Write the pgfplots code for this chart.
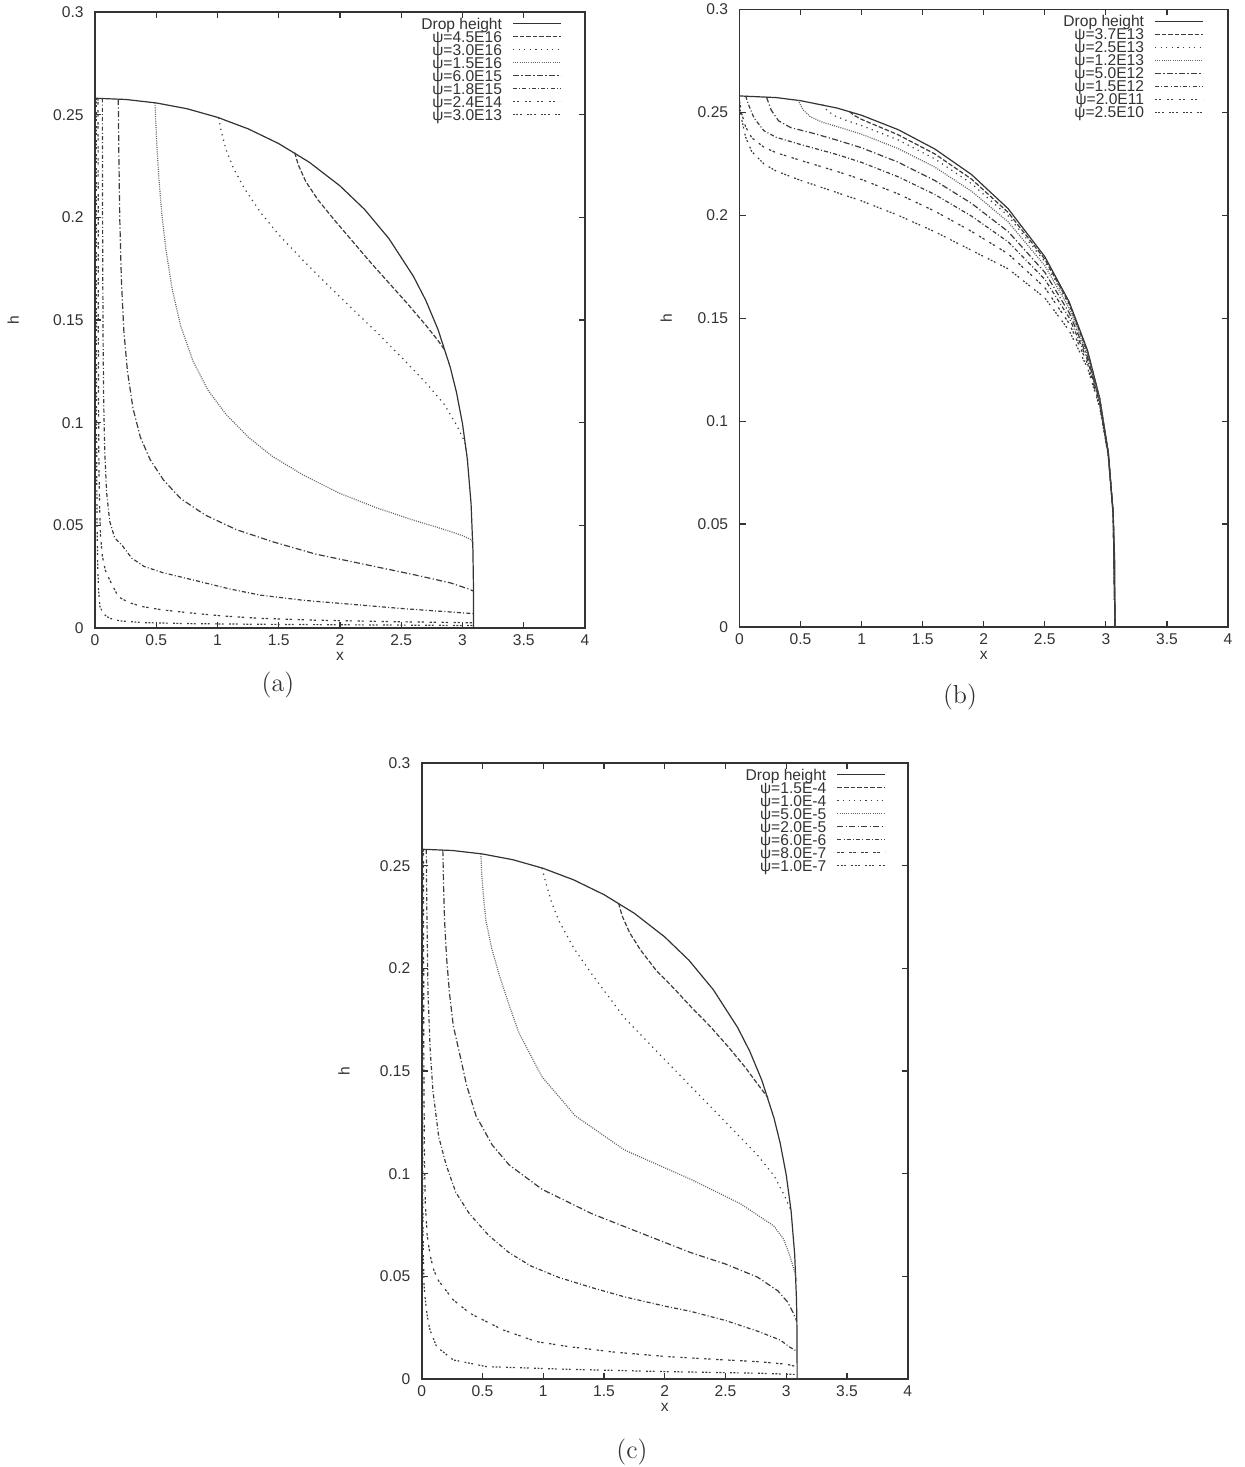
\documentclass[border=0pt]{standalone}
\usepackage{pgfplots}
\pgfplotsset{compat=1.18}
\usepackage{fontspec}
\newfontfamily\helv{Liberation Sans}
\definecolor{axcol}{HTML}{333333}
\definecolor{curcol}{HTML}{3C3C3C}
\definecolor{fincol}{HTML}{666666}
\newcommand{\tfont}{\helv\fontsize{7.8}{8}\selectfont}
\tikzset{
 sA/.style={curcol,dash pattern=on 2.3pt off 1pt},
 sB/.style={curcol,dash pattern=on 0.6pt off 2.2pt},
 sC/.style={fincol,dash pattern=on 0.5pt off 0.6pt},
 sD/.style={curcol,dash pattern=on 3pt off 1.2pt on 0.6pt off 1.2pt},
 sE/.style={curcol,dash pattern=on 2pt off 1.1pt on 0.5pt off 1.1pt},
 sF/.style={curcol,dash pattern=on 1.2pt off 0.8pt on 1.2pt off 2.8pt},
 sG/.style={curcol,dash pattern=on 0.9pt off 0.8pt on 0.9pt off 0.8pt on 0.9pt off 2.7pt},
 sS/.style={axcol,solid},
}
\pgfplotsset{
 panel/.style={
  scale only axis,
  xmin=0,xmax=4,ymin=0,ymax=0.3,
  xtick={0,0.5,1,1.5,2,2.5,3,3.5,4},
  xticklabels={0,0.5,1,1.5,2,2.5,3,3.5,4},
  ytick={0,0.05,0.1,0.15,0.2,0.25,0.3},
  yticklabels={0,0.05,0.1,0.15,0.2,0.25,0.3},
  tick align=inside, major tick length=3pt,
  every tick/.style={draw=axcol,line width=0.6pt},
  axis line style={draw=axcol,line width=0.8pt},
  ticklabel style={font=\tfont,text=axcol,inner sep=1pt},
  xticklabel style={yshift=-2.3pt},
  yticklabel style={xshift=-4.5pt},
  xlabel={x}, ylabel={h},
  every axis x label/.style={at={(axis description cs:0.5,0)},yshift=-14.2pt,anchor=center,font=\tfont,text=axcol,inner sep=0pt},
  every axis plot/.append style={line width=0.6pt},
  legend cell align=right,
  legend plot pos=right,
  legend image code/.code={\draw[##1] (0pt,0pt) -- (24pt,0pt);},
  legend style={draw=none,fill=none,anchor=north east,
    font=\tfont,text=axcol,
    inner sep=0pt,row sep=0pt,
    /tikz/every odd column/.append style={column sep=5pt},
    nodes={inner sep=0.2pt,text height=5.7pt,text depth=0.4pt}},
 }
}
\begin{document}
\begin{tikzpicture}
\path[use as bounding box] (0,0) rectangle (622pt,733.5pt);
% ---------------- (a)
\begin{axis}[panel,at={(47.5pt,419.5pt)},anchor=south west,width=245pt,height=308pt,
  every axis y label/.style={at={(axis description cs:-0.167,0.5)},rotate=90,anchor=center,font=\tfont,text=axcol},
  legend style={at={(axis description cs:0.953,0.992)}}]
\addplot[sS] coordinates {(0,0.258) (0.25,0.2574) (0.5,0.2557) (0.75,0.2529) (1.0,0.2487) (1.25,0.2431) (1.5,0.2359) (1.75,0.2268) (2.0,0.2153) (2.2,0.2039) (2.4,0.1896) (2.6,0.1712) (2.7,0.1596) (2.8,0.1454) (2.9,0.1270) (2.95,0.1150) (3.0,0.0995) (3.04,0.0820) (3.07,0.0605) (3.085,0.0382) (3.089,0.0223) (3.09,0)};
\addlegendentry{Drop height}
\addplot[sA] coordinates {(1.63,0.2315) (1.66,0.2255) (1.72,0.2175) (1.82,0.2085) (1.95,0.1990) (2.1,0.1885) (2.25,0.1780) (2.4,0.1680) (2.55,0.1580) (2.7,0.1475) (2.8,0.1400) (2.86,0.1350)};
\addlegendentry{ψ=4.5E16}
\addplot[sB] coordinates {(1.01,0.2485) (1.03,0.2420) (1.07,0.2330) (1.13,0.2240) (1.22,0.2140) (1.35,0.2025) (1.5,0.1915) (1.7,0.1790) (1.9,0.1670) (2.1,0.1555) (2.3,0.1440) (2.5,0.1320) (2.7,0.1195) (2.85,0.1090) (2.95,0.0990) (3.02,0.0905) (3.045,0.0800)};
\addlegendentry{ψ=3.0E16}
\addplot[sC] coordinates {(0.49,0.2557) (0.495,0.2480) (0.505,0.2350) (0.52,0.2200) (0.545,0.2020) (0.58,0.1840) (0.63,0.1650) (0.70,0.1470) (0.80,0.1300) (0.92,0.1160) (1.07,0.1040) (1.25,0.0930) (1.45,0.0835) (1.7,0.0745) (2.0,0.0655) (2.3,0.0585) (2.6,0.0525) (2.85,0.0480) (3.0,0.0450) (3.07,0.0430) (3.088,0.0415)};
\addlegendentry{ψ=1.5E16}
\addplot[sD] coordinates {(0.19,0.2576) (0.195,0.230) (0.202,0.200) (0.215,0.170) (0.235,0.145) (0.265,0.125) (0.31,0.107) (0.37,0.093) (0.45,0.082) (0.56,0.072) (0.7,0.063) (0.9,0.055) (1.15,0.048) (1.45,0.042) (1.8,0.036) (2.2,0.031) (2.6,0.026) (2.9,0.022) (3.05,0.019) (3.088,0.018)};
\addlegendentry{ψ=6.0E15}
\addplot[sE] coordinates {(0.06,0.2579) (0.061,0.22) (0.063,0.18) (0.066,0.14) (0.071,0.11) (0.08,0.085) (0.095,0.066) (0.12,0.052) (0.16,0.044) (0.224,0.040) (0.3,0.034) (0.4,0.030) (0.55,0.027) (0.8,0.0234) (1.1,0.019) (1.35,0.016) (1.7,0.0135) (2.1,0.0115) (2.5,0.0095) (2.9,0.0078) (3.088,0.007)};
\addlegendentry{ψ=1.8E15}
\addplot[sF] coordinates {(0.025,0.258) (0.026,0.2) (0.027,0.15) (0.029,0.11) (0.032,0.08) (0.037,0.06) (0.045,0.045) (0.06,0.035) (0.085,0.028) (0.12,0.0234) (0.19,0.0152) (0.28,0.0123) (0.39,0.0104) (0.55,0.0088) (0.8,0.0072) (1.05,0.0058) (1.35,0.0047) (1.8,0.0038) (2.4,0.0031) (2.9,0.0027) (3.088,0.0025)};
\addlegendentry{ψ=2.4E14}
\addplot[sG] coordinates {(0.01,0.258) (0.011,0.18) (0.012,0.12) (0.014,0.08) (0.017,0.05) (0.022,0.03) (0.03,0.018) (0.04,0.0104) (0.07,0.0068) (0.12,0.0047) (0.2,0.0035) (0.39,0.0026) (0.8,0.0021) (1.35,0.0018) (2.2,0.0015) (3.088,0.0012)};
\addlegendentry{ψ=3.0E13}
\end{axis}
% ---------------- (b)
\begin{axis}[panel,at={(369.75pt,420pt)},anchor=south west,width=244.25pt,height=308.75pt,
  every axis y label/.style={at={(axis description cs:-0.150,0.5)},rotate=90,anchor=center,font=\tfont,text=axcol},
  legend style={at={(axis description cs:0.951,0.992)}}]
\addplot[sS] coordinates {(0,0.258) (0.3,0.2572) (0.5,0.2557) (0.8,0.2521) (1.0,0.2486) (1.3,0.2416) (1.6,0.2322) (1.9,0.2198) (2.2,0.2032) (2.5,0.1799) (2.7,0.1579) (2.85,0.1343) (2.95,0.1110) (3.02,0.0847) (3.06,0.0551) (3.072,0.0322) (3.075,0)};
\addlegendentry{Drop height}
\addplot[sA] coordinates {(0.9,0.2504) (0.94,0.2485) (1.0,0.2466) (1.1,0.2441) (1.3,0.2391) (1.6,0.2298) (1.9,0.2176) (2.2,0.2014) (2.5,0.1787) (2.7,0.1571) (2.85,0.1338) (2.95,0.1108) (3.02,0.0846) (3.06,0.0551) (3.075,0)};
\addlegendentry{ψ=3.7E13}
\addplot[sB] coordinates {(0.68,0.2537) (0.72,0.2508) (0.78,0.2483) (0.88,0.2460) (1.0,0.2436) (1.3,0.2366) (1.6,0.2274) (1.9,0.2154) (2.2,0.1997) (2.5,0.1775) (2.7,0.1562) (2.85,0.1333) (2.95,0.1105) (3.02,0.0845) (3.06,0.0550) (3.075,0)};
\addlegendentry{ψ=2.5E13}
\addplot[sC] coordinates {(0.48,0.2559) (0.52,0.2513) (0.58,0.2479) (0.68,0.2452) (0.8,0.2431) (1.0,0.2394) (1.3,0.2324) (1.6,0.2234) (1.9,0.2117) (2.2,0.1968) (2.5,0.1755) (2.7,0.1548) (2.85,0.1324) (2.95,0.1100) (3.02,0.0843) (3.06,0.0550) (3.075,0)};
\addlegendentry{ψ=1.2E13}
\addplot[sD] coordinates {(0.22,0.2576) (0.26,0.2511) (0.32,0.2459) (0.42,0.2426) (0.6,0.2399) (0.8,0.2365) (1.0,0.2328) (1.3,0.2258) (1.6,0.2169) (1.9,0.2058) (2.2,0.1921) (2.5,0.1723) (2.7,0.1526) (2.85,0.1311) (2.95,0.1093) (3.02,0.0840) (3.06,0.0549) (3.075,0)};
\addlegendentry{ψ=5.0E12}
\addplot[sE] coordinates {(0.05,0.2580) (0.08,0.2528) (0.12,0.2472) (0.2,0.2411) (0.3,0.2379) (0.5,0.2344) (0.8,0.2295) (1.0,0.2257) (1.3,0.2187) (1.6,0.2101) (1.9,0.1996) (2.2,0.1871) (2.5,0.1689) (2.7,0.1502) (2.85,0.1296) (2.95,0.1085) (3.02,0.0837) (3.06,0.0548) (3.075,0)};
\addlegendentry{ψ=1.5E12}
\addplot[sF] coordinates {(0,0.2555) (0.02,0.2490) (0.05,0.2430) (0.1,0.2377) (0.2,0.2331) (0.3,0.2304) (0.5,0.2267) (0.8,0.2213) (1.0,0.2174) (1.3,0.2104) (1.6,0.2020) (1.9,0.1922) (2.2,0.1813) (2.5,0.1649) (2.7,0.1474) (2.85,0.1279) (2.95,0.1076) (3.02,0.0833) (3.06,0.0546) (3.075,0)};
\addlegendentry{ψ=2.0E11}
\addplot[sG] coordinates {(0,0.2530) (0.02,0.2460) (0.05,0.2380) (0.1,0.2310) (0.2,0.2250) (0.3,0.2215) (0.5,0.2170) (0.8,0.2110) (1.0,0.2070) (1.3,0.2000) (1.6,0.1920) (1.9,0.1830) (2.2,0.1740) (2.5,0.1599) (2.7,0.1439) (2.85,0.1258) (2.95,0.1065) (3.02,0.0829) (3.06,0.0545) (3.075,0)};
\addlegendentry{ψ=2.5E10}
\end{axis}
% ---------------- (c)
\begin{axis}[panel,at={(210.85pt,44pt)},anchor=south west,width=243pt,height=308pt,
  every axis y label/.style={at={(axis description cs:-0.160,0.5)},rotate=90,anchor=center,font=\tfont,text=axcol},
  legend style={at={(axis description cs:0.956,0.992)}}]
\addplot[sS] coordinates {(0,0.258) (0.25,0.2574) (0.5,0.2557) (0.75,0.2529) (1.0,0.2487) (1.25,0.2431) (1.5,0.2359) (1.75,0.2268) (2.0,0.2153) (2.2,0.2039) (2.4,0.1896) (2.6,0.1712) (2.7,0.1596) (2.8,0.1454) (2.9,0.1270) (2.95,0.1150) (3.0,0.0995) (3.04,0.0820) (3.07,0.0605) (3.085,0.0382) (3.089,0.0223) (3.09,0)};
\addlegendentry{Drop height}
\addplot[sA] coordinates {(1.62,0.2318) (1.65,0.2255) (1.71,0.2175) (1.8,0.2090) (1.93,0.1990) (2.08,0.1900) (2.22,0.1810) (2.37,0.1720) (2.52,0.1620) (2.66,0.1520) (2.76,0.1440) (2.85,0.1370)};
\addlegendentry{ψ=1.5E-4}
\addplot[sB] coordinates {(0.99,0.2488) (1.02,0.2420) (1.07,0.2320) (1.127,0.2234) (1.25,0.2100) (1.40,0.1972) (1.67,0.1758) (1.944,0.1590) (2.217,0.1424) (2.49,0.1258) (2.764,0.1090) (2.9,0.0990) (2.98,0.0900) (3.04,0.0820)};
\addlegendentry{ψ=1.0E-4}
\addplot[sC] coordinates {(0.487,0.2557) (0.495,0.2450) (0.51,0.2340) (0.528,0.2234) (0.575,0.2100) (0.637,0.1970) (0.72,0.1820) (0.80,0.1686) (0.99,0.1472) (1.263,0.1282) (1.67,0.1115) (2.217,0.0972) (2.625,0.0853) (2.897,0.0746) (2.98,0.0680) (3.03,0.0600) (3.07,0.0520) (3.088,0.0480)};
\addlegendentry{ψ=5.0E-5}
\addplot[sD] coordinates {(0.174,0.2576) (0.18,0.2400) (0.188,0.2234) (0.205,0.2050) (0.229,0.1877) (0.26,0.1720) (0.31,0.1590) (0.37,0.1430) (0.447,0.1282) (0.58,0.1140) (0.719,0.1043) (0.99,0.0924) (1.40,0.0805) (1.807,0.0710) (2.217,0.0615) (2.5,0.0560) (2.764,0.0496) (2.93,0.0430) (3.01,0.0376) (3.06,0.0320) (3.088,0.0280)};
\addlegendentry{ψ=2.0E-5}
\addplot[sE] coordinates {(0.038,0.2576) (0.042,0.2300) (0.052,0.1877) (0.07,0.1600) (0.093,0.1400) (0.14,0.1180) (0.201,0.1043) (0.28,0.0910) (0.392,0.0805) (0.55,0.0700) (0.719,0.0615) (0.9,0.0550) (1.127,0.0495) (1.4,0.0445) (1.67,0.0400) (2.0,0.0355) (2.217,0.0329) (2.5,0.0285) (2.764,0.0233) (2.95,0.0190) (3.03,0.0155) (3.088,0.0135)};
\addlegendentry{ψ=6.0E-6}
\addplot[sF] coordinates {(0.015,0.258) (0.016,0.2) (0.018,0.15) (0.022,0.11) (0.03,0.085) (0.045,0.07) (0.07,0.06) (0.1,0.053) (0.137,0.048) (0.26,0.0385) (0.397,0.032) (0.67,0.0239) (0.944,0.0182) (1.218,0.0157) (1.6,0.013) (2.0,0.011) (2.4,0.0096) (2.78,0.0084) (3.0,0.0072) (3.088,0.006)};
\addlegendentry{ψ=8.0E-7}
\addplot[sG] coordinates {(0.006,0.258) (0.007,0.15) (0.009,0.09) (0.013,0.06) (0.02,0.045) (0.027,0.040) (0.045,0.031) (0.068,0.0239) (0.123,0.0157) (0.26,0.0093) (0.534,0.006) (1.218,0.0047) (2.0,0.0036) (2.78,0.0028) (3.088,0.0022)};
\addlegendentry{ψ=1.0E-7}
\end{axis}
\node[font=\fontsize{13}{15}\selectfont,text=axcol] at (139pt,391pt) {(a)};
\node[font=\fontsize{13}{15}\selectfont,text=axcol] at (480pt,385pt) {(b)};
\node[font=\fontsize{13}{15}\selectfont,text=axcol] at (316pt,7.5pt) {(c)};
\end{tikzpicture}
\end{document}
